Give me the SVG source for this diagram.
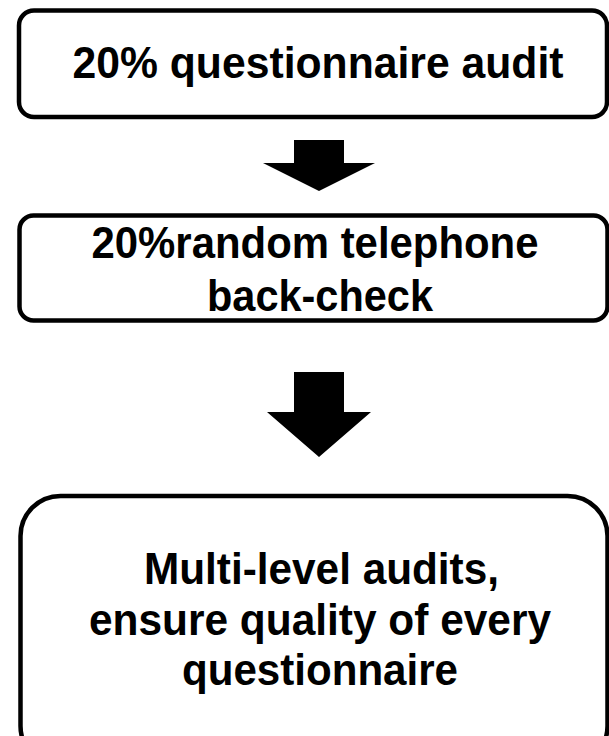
<svg xmlns="http://www.w3.org/2000/svg" width="609" height="736" viewBox="0 0 609 736">
  <style>
    .box { fill: #ffffff; stroke: #000000; stroke-width: 4.5; }
    .lbl { font-family: "Liberation Sans", Arial, sans-serif; font-weight: bold; font-size: 44px; fill: #000000; text-anchor: middle; }
    .arrow { fill: #000000; stroke: none; }
  </style>
  <rect width="609" height="736" fill="#ffffff"/>

  <g id="connectors">
    <polygon class="arrow" points="294,140 344,140 344,163 375,163 319,191 263,163 294,163"/>
    <polygon class="arrow" points="294,372 344,372 344,412 371,412 319,457 267,412 294,412"/>
  </g>

  <g id="node-audit">
    <rect class="box" x="19" y="10.5" width="588" height="106.5" rx="15" ry="15"/>
    <text class="lbl" x="318" y="78" textLength="491" lengthAdjust="spacingAndGlyphs">20% questionnaire audit</text>
  </g>

  <g id="node-backcheck">
    <rect class="box" x="19.5" y="215.5" width="588" height="105" rx="14" ry="14"/>
    <text class="lbl" x="315" y="258" textLength="447" lengthAdjust="spacingAndGlyphs">20%random telephone</text>
    <text class="lbl" x="320" y="311" textLength="226" lengthAdjust="spacingAndGlyphs">back-check</text>
  </g>

  <g id="node-multilevel">
    <rect class="box" x="20.5" y="496" width="587" height="270" rx="40" ry="40"/>
    <text class="lbl" x="321.5" y="584" textLength="355" lengthAdjust="spacingAndGlyphs">Multi-level audits,</text>
    <text class="lbl" x="320" y="635" textLength="462" lengthAdjust="spacingAndGlyphs">ensure quality of every</text>
    <text class="lbl" x="320" y="685" textLength="276" lengthAdjust="spacingAndGlyphs">questionnaire</text>
  </g>
</svg>
